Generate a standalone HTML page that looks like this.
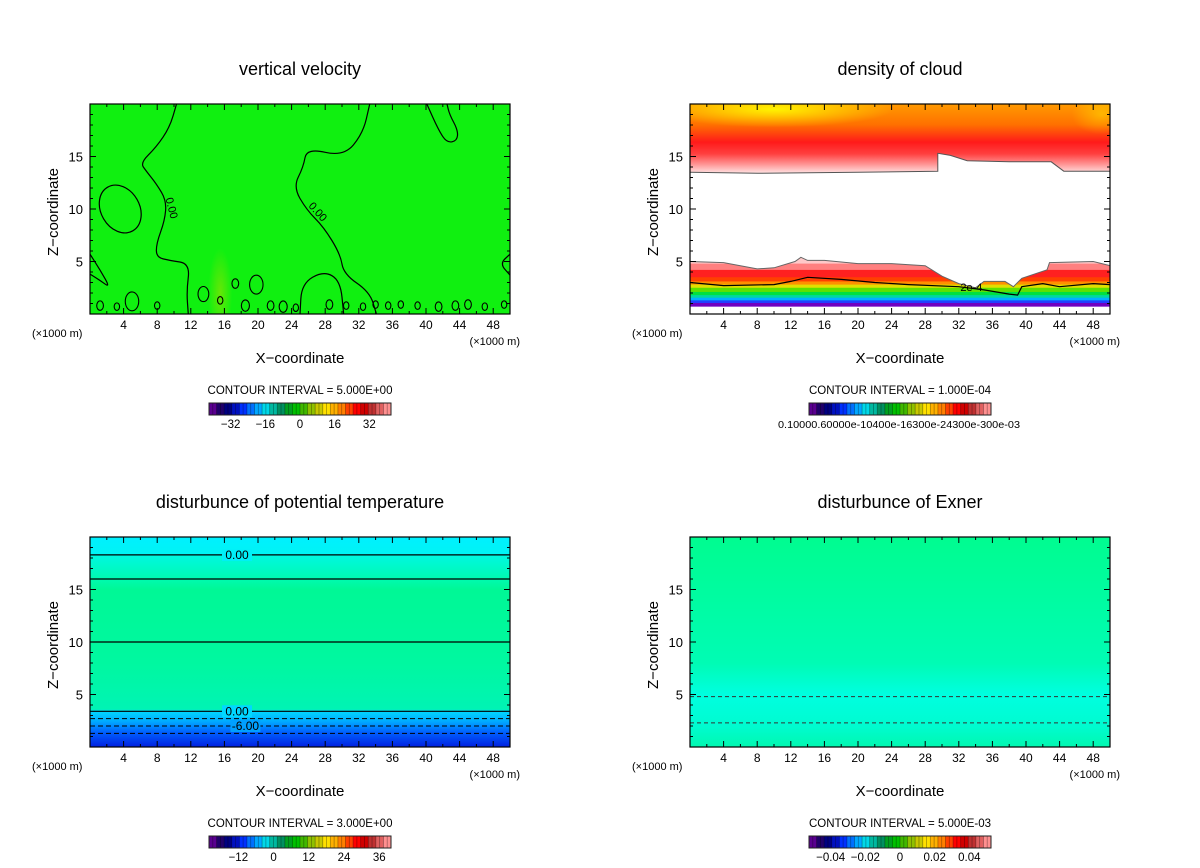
<!DOCTYPE html>
<html><head><meta charset="utf-8"><style>
html,body{margin:0;padding:0;background:#fff;}
svg{display:block;font-family:"Liberation Sans",sans-serif;}
</style></head><body>
<svg id="root" width="1200" height="868" viewBox="0 0 1200 868">
<defs>
<linearGradient id="gTemp" x1="0" y1="0" x2="0" y2="1">
 <stop offset="0" stop-color="#00f0ff"/><stop offset="0.085" stop-color="#00f4f4"/>
 <stop offset="0.09" stop-color="#00f8e0"/><stop offset="0.2" stop-color="#00fab0"/>
 <stop offset="0.25" stop-color="#00f896"/><stop offset="0.6" stop-color="#00f8a0"/>
 <stop offset="0.82" stop-color="#00f4b4"/><stop offset="0.83" stop-color="#00d8ff"/>
 <stop offset="0.88" stop-color="#00a8ff"/><stop offset="0.93" stop-color="#0060ff"/>
 <stop offset="1" stop-color="#0020e0"/></linearGradient>
<linearGradient id="gExner" x1="0" y1="0" x2="0" y2="1">
 <stop offset="0" stop-color="#00fc90"/><stop offset="0.6" stop-color="#00fcb4"/>
 <stop offset="0.75" stop-color="#00fee0"/><stop offset="0.9" stop-color="#00fcd0"/>
 <stop offset="1" stop-color="#00f8b0"/></linearGradient>
<linearGradient id="gCloudTop" x1="0" y1="0" x2="0" y2="1">
 <stop offset="0" stop-color="#ff9a00"/><stop offset="0.3" stop-color="#ff7000"/>
 <stop offset="0.55" stop-color="#ff1a1a"/><stop offset="0.72" stop-color="#ff4040"/>
 <stop offset="0.88" stop-color="#ff9a9a"/><stop offset="1" stop-color="#ffe4e4"/></linearGradient>
<radialGradient id="gYellow"><stop offset="0" stop-color="#ffff00"/><stop offset="1" stop-color="#ffff00" stop-opacity="0"/></radialGradient>
<radialGradient id="gVV"><stop offset="0" stop-color="#a0e000"/><stop offset="1" stop-color="#a0e000" stop-opacity="0"/></radialGradient>
</defs>
<g id="plots"></g>
</svg>
<script>
// ---------- data ----------
var xTicks = [4,8,12,16,20,24,28,32,36,40,44,48];
var zTicks = [5,10,15];
var titles = ["vertical velocity","density of cloud","disturbunce of potential temperature","disturbunce of Exner"];
var intervals = ["CONTOUR INTERVAL = 5.000E+00","CONTOUR INTERVAL = 1.000E-04","CONTOUR INTERVAL = 3.000E+00","CONTOUR INTERVAL = 5.000E-03"];
var cbLabelsVV = ["-32","-16","0","16","32"];
var cbValsVV = [-32,-16,0,16,32];
var cbLabelsTh = ["-12","0","12","24","36"];
var cbValsTh = [-12,0,12,24,36];
var cbLabelsEx = ["-0.04","-0.02","0","0.02","0.04"];
var cbValsEx = [-0.04,-0.02,0,0.02,0.04];
// vertical velocity zero contours [x(km), z(km)]
var vvLine1 = [[10.3,20],[9.5,17.8],[7.9,15.9],[6.0,14.4],[6.7,13.6],[7.9,12.4],[9.1,10.8],[8.9,8.9],[7.9,6.7],[7.9,5.4],[9.5,5.1],[11.9,4.8],[11.5,2.2],[11.7,0]];
var vvLine2 = [[33.3,20],[32.5,17.2],[30.2,15],[25.8,15.8],[25.4,14],[24.2,12.1],[25.8,9.9],[27.8,8.3],[29.8,5.7],[30.2,3.8],[33.3,2.1],[34.1,0]];
var vvLine3 = [[40.1,20],[41.5,17.5],[42.5,16.3],[43.7,16.5],[43.8,17.5],[42.8,19],[42.5,20]];
var vvLine4 = [[0,5.7],[1.2,4.2],[2.4,2.5],[1.2,3.2],[0,3.8]];
var vvLine5 = [[50,5.7],[48.8,4.8],[50,3.7]];
var vvLine6 = [[25,0],[25.2,2.9],[27.8,4.1],[29.8,3.2],[30.2,0]];
var vvLoop = [3.6,10.0,2.3,2.4];
var vvBlobs = [[1.2,0.8,0.5],[3.2,0.7,0.4],[5,1.2,1.0],[8,0.8,0.4],[13.5,1.9,0.8],[15.5,1.3,0.4],[17.3,2.9,0.5],[19.8,2.8,1.0],[18.5,0.8,0.6],[21.5,0.8,0.5],[23,0.7,0.6],[24.5,0.6,0.4],[28.5,0.9,0.5],[30.5,0.8,0.4],[32.5,0.7,0.4],[34,0.9,0.4],[35.5,0.8,0.4],[37,0.9,0.4],[39,0.8,0.4],[41.5,0.7,0.5],[43.5,0.8,0.5],[45,0.9,0.5],[47,0.7,0.4],[49.3,0.9,0.4]];
// cloud density band boundaries
var cloudUpperBase = [[0,13.5],[8,13.4],[20,13.5],[29.5,13.6],[29.5,15.3],[31,15.1],[33,14.6],[38,14.5],[43,14.5],[44.5,13.6],[50,13.6]];
var cloudLowerTop = [[0,5],[4,4.9],[8,4.3],[10,4.4],[12.5,5.0],[13.2,5.4],[14,5.1],[16,5.1],[20,4.8],[24,4.8],[28,4.6],[30,3.6],[32,2.9],[34,2.5],[35,3.1],[37.5,3.1],[38.5,2.6],[39.5,3.4],[42.5,4.2],[42.8,4.9],[48,5.0],[50,4.6]];
var cloud2e4 = [[0,3.0],[4,2.7],[10,2.8],[12,3.1],[14,3.5],[18,3.3],[22,3.0],[26,2.8],[32,2.6],[35,2.3],[38,1.9],[39,1.8],[39.5,2.6],[42,2.9],[44,2.6],[48,2.9],[50,2.8]];
// potential temperature contour levels (z km)
var thSolid = [18.3,16.0,10.0,3.4];
var thDashed = [2.7,2.0,1.3];
// Exner contour levels
var exDashed = [4.8,2.3];

// ---------- layout ----------
var NS="http://www.w3.org/2000/svg";
var panels=[{x:90,y:104},{x:690,y:104},{x:90,y:537},{x:690,y:537}];
var PW=420,PH=210,XMAX=50,ZMAX=20;
function sx(p,v){return p.x+v/XMAX*PW;}
function sy(p,v){return p.y+PH-v/ZMAX*PH;}
function el(tag,attrs,parent){var e=document.createElementNS(NS,tag);for(var k in attrs)e.setAttribute(k,attrs[k]);(parent||document.getElementById('plots')).appendChild(e);return e;}
function txt(s,x,y,size,anchor,parent){var t=el('text',{x:x,y:y,'font-size':size,'text-anchor':anchor||'middle',fill:'#000'},parent);t.textContent=s;return t;}
function pathOf(p,pts,close){var d='';pts.forEach(function(q,i){d+=(i?'L':'M')+sx(p,q[0]).toFixed(1)+' '+sy(p,q[1]).toFixed(1);});return d+(close?'Z':'');}
function smooth(p,pts){var d='M'+sx(p,pts[0][0])+' '+sy(p,pts[0][1]);for(var i=1;i<pts.length;i++){var a=pts[i-1],b=pts[i];var mx=(sx(p,a[0])+sx(p,b[0]))/2,my=(sy(p,a[1])+sy(p,b[1]))/2;d+=' Q'+sx(p,a[0])+' '+sy(p,a[1])+' '+mx+' '+my;}var l=pts[pts.length-1];d+=' L'+sx(p,l[0])+' '+sy(p,l[1]);return d;}

var cbColors=["#5a0090","#20006a","#000080","#0010c0","#0030ff","#0070ff","#00a8ff","#00d8e8","#00b8a0","#009060","#00a020","#00c000","#40b800","#90c000","#c8c800","#ffe000","#ffb000","#ff8000","#ff4000","#ff0000","#d00000","#c03030","#e06060","#ff9090"];

function drawPanel(i){
  var p=panels[i];
  var g=el('g',{});
  
  
  var clipId='clip'+i;
  var cp=el('clipPath',{id:clipId},g);el('rect',{x:p.x,y:p.y,width:PW,height:PH},cp);
  var field=el('g',{'clip-path':'url(#'+clipId+')'},g);
  
  
  if(i===0){
    el('rect',{x:p.x,y:p.y,width:PW,height:PH,fill:'#10f010'},field);
    el('ellipse',{cx:sx(p,15.5),cy:sy(p,2),rx:12,ry:45,fill:'url(#gVV)',opacity:0.6},field);
    [vvLine1,vvLine2,vvLine3,vvLine4,vvLine5,vvLine6].forEach(function(L){
      var c=el('path',{d:smooth(p,L),fill:'none',stroke:'#000','stroke-width':1.2},field);
      
      
    });
    el('ellipse',{cx:sx(p,vvLoop[0]),cy:sy(p,vvLoop[1]),rx:vvLoop[2]/XMAX*PW,ry:vvLoop[3]/ZMAX*PH,fill:'none',stroke:'#000','stroke-width':1.2,transform:'rotate(-30 '+sx(p,vvLoop[0])+' '+sy(p,vvLoop[1])+')'},field);
    vvBlobs.forEach(function(b){
      var e=el('ellipse',{cx:sx(p,b[0]),cy:sy(p,b[1]),rx:b[2]/XMAX*PW*0.8,ry:b[2]/ZMAX*PH*0.9,fill:'none',stroke:'#000','stroke-width':1.1},field);
      
      
    });
    var t1=txt('0.00',sx(p,9.3),sy(p,10),11,'middle',field);t1.setAttribute('transform','rotate(75 '+sx(p,9.3)+' '+sy(p,10)+')');
    var t2=txt('0.00',sx(p,26.8),sy(p,9.5),11,'middle',field);t2.setAttribute('transform','rotate(48 '+sx(p,26.8)+' '+sy(p,9.5)+')');
  } else if(i===1){
    el('rect',{x:p.x,y:p.y,width:PW,height:PH,fill:'#fff'},field);
    var up=[[0,20]].concat(cloudUpperBase).concat([[50,20]]);
    var u=el('path',{d:pathOf(p,up,true),fill:'url(#gCloudTop)'},field);
    
    
    el('ellipse',{cx:sx(p,10),cy:sy(p,19.5),rx:120,ry:18,fill:'url(#gYellow)',opacity:0.9},field);
    el('ellipse',{cx:sx(p,49),cy:sy(p,19),rx:30,ry:20,fill:'url(#gYellow)',opacity:0.4},field);
    el('path',{d:pathOf(p,cloudUpperBase,false),fill:'none',stroke:'#555','stroke-width':1},field);
    var lowId='low'+i;
    var lc=el('clipPath',{id:lowId},g);
    el('path',{d:pathOf(p,[[0,0]].concat(cloudLowerTop).concat([[50,0]]),true)},lc);
    var lg=el('g',{'clip-path':'url(#'+lowId+')'},field);
    
    
    var bands=[[5.6,'#ffc8c8'],[4.8,'#ff8080'],[4.2,'#ff2020'],[3.5,'#ff4000'],[3.1,'#ff9000'],[2.8,'#e0e000'],[2.5,'#60e000'],[2.1,'#00e040'],[1.8,'#00d8a0'],[1.55,'#00b0ff'],[1.3,'#2040ff'],[1.05,'#7000c0'],[0.7,'#ffffff']];
    bands.forEach(function(b,k){var top=b[0],bot=k+1<bands.length?bands[k+1][0]:0;
      el('rect',{x:p.x,y:sy(p,top),width:PW,height:sy(p,bot)-sy(p,top)+0.5,fill:b[1]},lg);});
    el('path',{d:pathOf(p,cloudLowerTop,false),fill:'none',stroke:'#666','stroke-width':1},field);
    var c2=el('path',{d:pathOf(p,cloud2e4,false),fill:'none',stroke:'#000','stroke-width':1.2},field);
    
    
    txt('2e-4',sx(p,33.5),sy(p,2.2),11,'middle',field);
  } else if(i===2){
    el('rect',{x:p.x,y:p.y,width:PW,height:PH,fill:'url(#gTemp)'},field);
    thSolid.forEach(function(z){var l=el('line',{x1:p.x,x2:p.x+PW,y1:sy(p,z),y2:sy(p,z),stroke:'#000','stroke-width':1.2},field);
      
      });
    thDashed.forEach(function(z){var l=el('line',{x1:p.x,x2:p.x+PW,y1:sy(p,z),y2:sy(p,z),stroke:'#000','stroke-width':1,'stroke-dasharray':'5,3'},field);
      
      });
    [[thSolid[0],'0.00',17.5],[thSolid[3],'0.00',17.5],[thDashed[1],'-6.00',18.5]].forEach(function(a){
      var w=30;el('rect',{x:sx(p,a[2])-w/2,y:sy(p,a[0])-6,width:w,height:12,fill:a[1]==='-6.00'?'#00a0ff':(a[0]>10?'#00f0f8':'#00d8ff')},field);
      txt(a[1],sx(p,a[2]),sy(p,a[0])+4,12,'middle',field);});
  } else {
    el('rect',{x:p.x,y:p.y,width:PW,height:PH,fill:'url(#gExner)'},field);
    exDashed.forEach(function(z){var l=el('line',{x1:p.x,x2:p.x+PW,y1:sy(p,z),y2:sy(p,z),stroke:'#333','stroke-width':1,'stroke-dasharray':'4,3'},field);
      
      });
  }
  // frame
  var fr=el('rect',{x:p.x,y:p.y,width:PW,height:PH,fill:'none',stroke:'#000','stroke-width':1.2},g);
  
  
  // ticks
  for(var v=2;v<XMAX;v+=2){var len=(v%4===0)?6:3;
    el('line',{x1:sx(p,v),x2:sx(p,v),y1:p.y+PH,y2:p.y+PH-len,stroke:'#000'},g);
    el('line',{x1:sx(p,v),x2:sx(p,v),y1:p.y,y2:p.y+len,stroke:'#000'},g);}
  for(var z=1;z<ZMAX;z++){var lz=(z%5===0)?6:3;
    el('line',{x1:p.x,x2:p.x+lz,y1:sy(p,z),y2:sy(p,z),stroke:'#000'},g);
    el('line',{x1:p.x+PW,x2:p.x+PW-lz,y1:sy(p,z),y2:sy(p,z),stroke:'#000'},g);}
  xTicks.forEach(function(v){var t=txt(String(v),sx(p,v),p.y+PH+15,12,'middle',g);
    
    });
  zTicks.forEach(function(v){var t=txt(String(v),p.x-7,sy(p,v)+5,13,'end',g);
    
    });
  txt('(\u00d71000 m)',p.x-58,p.y+PH+23,11,'start',g);
  txt('(\u00d71000 m)',p.x+PW+10,p.y+PH+31,11,'end',g);
  var xl=txt('X\u2212coordinate',p.x+PW/2,p.y+PH+49,15,'middle',g);
  
  
  var yl=txt('Z\u2212coordinate',0,0,15,'middle',g);
  yl.setAttribute('transform','translate('+(p.x-32)+','+(p.y+PH/2+3)+') rotate(-90)');
  
  
  var tt=txt(titles[i],p.x+PW/2,p.y-29,18,'middle',g);
  
  
  var ci=txt(intervals[i],p.x+PW/2,p.y+PH+80,11.5,'middle',g);
  
  
  // colorbar
  var cbx=p.x+119,cby=p.y+PH+89,cbw=182,cbh=12,n=48;
  var cb=el('g',{},g);
  
  
  for(var k=0;k<n;k++){var c=cbColors[Math.floor(k/n*cbColors.length)];
    el('rect',{x:cbx+k*cbw/n,y:cby,width:cbw/n+0.3,height:cbh,fill:c},cb);
    el('line',{x1:cbx+k*cbw/n,x2:cbx+k*cbw/n,y1:cby,y2:cby+cbh,stroke:'#000','stroke-opacity':0.35,'stroke-width':0.8},cb);}
  el('rect',{x:cbx,y:cby,width:cbw,height:cbh,fill:'none',stroke:'#222','stroke-width':1},cb);
  var labs=null,vals=null,lo=0,hi=1;
  if(i===0){labs=cbLabelsVV;vals=cbValsVV;lo=-42;hi=42;}
  if(i===2){labs=cbLabelsTh;vals=cbValsTh;lo=-22;hi=40;}
  if(i===3){labs=cbLabelsEx;vals=cbValsEx;lo=-0.0525;hi=0.0525;}
  if(labs){labs.forEach(function(s,k){txt(s.replace('-','\u2212'),cbx+(vals[k]-lo)/(hi-lo)*cbw,cby+25,11.5,'middle',cb);});}
  else {var tl=txt('0.10000.60000e-10400e-16300e-24300e-300e-03',cbx+90,cby+25,10.5,'middle',cb);tl.setAttribute('textLength','242');tl.setAttribute('lengthAdjust','spacingAndGlyphs');}
}
for(var i=0;i<4;i++)drawPanel(i);
</script>
</body></html>
